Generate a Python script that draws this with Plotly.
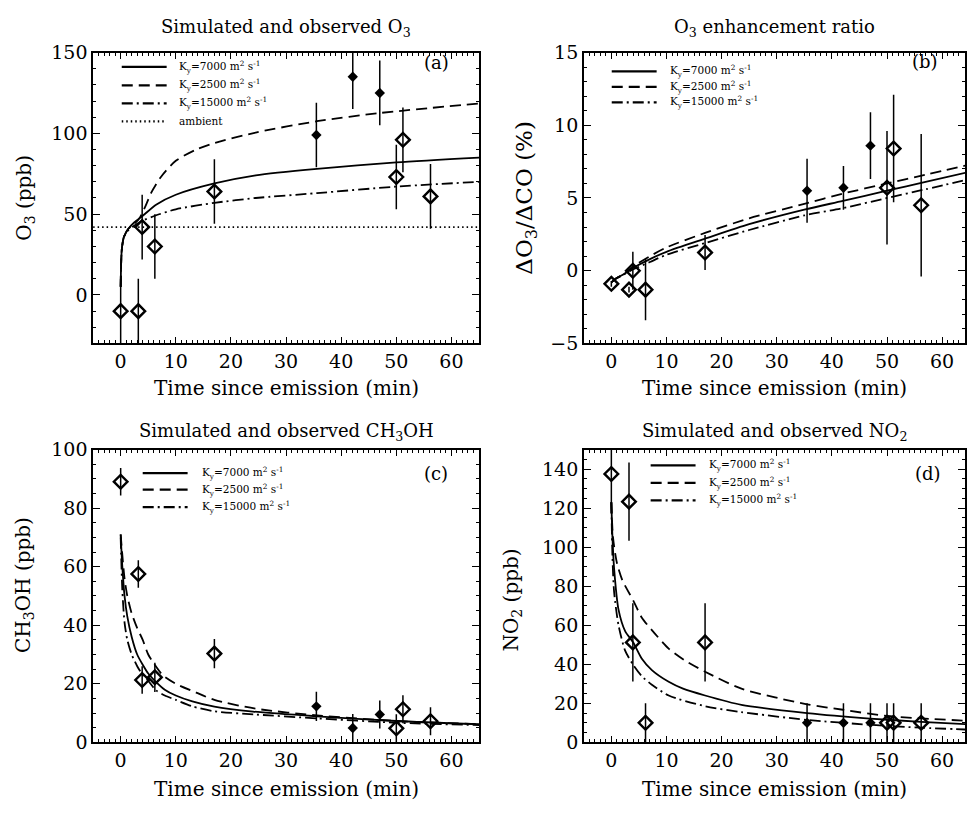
import plotly.graph_objects as go

W, H = 967, 813
FONT = "DejaVu Serif"

# ---------------- data ----------------
t_obs = [0.0, 3.2, 3.9, 6.2, 17.0, 35.5, 42.1, 47.0, 50.0, 51.2, 56.2]
filled = [False, False, False, False, False, True, True, True, False, False, False]

o3_obs = [-10, -10, 42, 30, 64, 99, 135, 125, 73, 96, 61]
o3_err = [20, 20, 20, 20, 20, 20, 20, 20, 20, 20, 20]

ratio_obs = [-0.9, -1.3, 0.0, -1.3, 1.25, 5.5, 5.7, 8.6, 5.7, 8.4, 4.5]
ratio_err = [0.2, 0.2, 1.3, 2.1, 1.2, 2.2, 1.5, 2.3, 3.9, 3.7, 4.9]

ch3oh_obs = [89, 57.5, 21.3, 22.2, 30.3, 12.3, 4.9, 9.5, 4.8, 11.3, 7.2]
ch3oh_err = [4.7, 4.7, 4.7, 5, 5, 5, 4.8, 4.8, 4.8, 4.8, 4.8]

no2_obs = [137.5, 123.3, 51.2, 10, 51.2, 10, 10, 10, 10, 10, 10]
no2_err = [20, 20, 20, 10, 20, 10, 10, 10, 10, 10, 10]

o3_ambient = 42

# simulated curves
o3_k7000_t = [0, 0.2, 0.6, 1.4, 2.5, 4, 6.5, 10, 17, 24.5, 35.6, 50, 65]
o3_k7000 = [5, 28, 36, 41, 45, 49, 56, 62, 69, 74, 78, 82, 85]
o3_k2500_t = [0, 0.2, 0.6, 1.4, 2.5, 3.5, 4.5, 5.5, 7.3, 10, 13.7, 17, 24.5, 35.6, 46.8, 65]
o3_k2500 = [5, 28, 36, 41, 44, 48, 55, 63, 73, 83, 90, 94, 100.5, 107.5, 112.5, 118.5]
o3_k15000_t = [0, 0.2, 0.6, 1.4, 2.5, 4, 6.2, 10, 17, 24.5, 35.6, 49.8, 65]
o3_k15000 = [5, 28, 36, 40, 43, 46, 49, 53, 57, 60, 63, 67, 70]

ratio_k7000_t = [0, 1, 2, 4, 7, 10, 17, 25, 35, 42, 50, 57, 65]
ratio_k7000 = [-0.8, -0.5, -0.3, 0.2, 0.8, 1.3, 2.2, 3.2, 4.2, 4.8, 5.5, 6.1, 6.8]
ratio_k2500_t = [0, 1, 2, 4, 7, 10, 17, 25, 35, 42, 50, 57, 65]
ratio_k2500 = [-0.8, -0.5, -0.3, 0.3, 1.0, 1.6, 2.6, 3.6, 4.6, 5.3, 6.0, 6.6, 7.3]
ratio_k15000_t = [0, 1, 2, 4, 7, 10, 17, 25, 35, 42, 50, 57, 65]
ratio_k15000 = [-0.8, -0.5, -0.3, 0.1, 0.6, 1.1, 1.9, 2.8, 3.8, 4.3, 5.0, 5.6, 6.3]

ch3oh_k7000_t = [0, 0.3, 0.7, 1.2, 2, 3, 4, 5, 6.2, 8, 10, 13, 17, 24, 35.6, 50, 65]
ch3oh_k7000 = [71, 60, 50, 43, 36, 30, 26.5, 23.5, 21, 18, 16, 14, 12.2, 10.5, 8.9, 7.3, 6.2]
ch3oh_k2500_t = [0, 0.3, 0.7, 1.2, 2, 3, 4, 5, 6, 7.7, 10, 13.7, 17, 24.5, 35.6, 50, 65]
ch3oh_k2500 = [71, 64, 56, 50, 44, 39, 35, 30, 27, 22.8, 20, 17, 14.5, 11.5, 9.2, 7.3, 6.2]
ch3oh_k15000_t = [0, 0.3, 0.7, 1.2, 2, 3, 4, 5, 6.4, 8, 10, 13, 17, 24.5, 35.6, 50, 65]
ch3oh_k15000 = [70, 52, 41, 35, 30, 26, 23, 21, 17.8, 16, 14.5, 12.3, 10.6, 9.5, 8.2, 6.7, 5.9]

no2_k7000_t = [0, 0.2, 0.5, 1.3, 2.5, 4, 5.5, 7.35, 10.4, 13, 17, 23.6, 35.5, 46.9, 56.2, 65]
no2_k7000 = [123, 105, 89, 68, 57, 51, 43, 37, 31, 27.5, 24, 19.2, 15, 12.2, 10.5, 9.2]
no2_k2500_t = [0, 0.3, 1, 2, 4, 5.5, 7.35, 10.4, 13.3, 17, 23.6, 35.5, 42, 50, 65]
no2_k2500 = [123, 105, 92, 83, 72.5, 64, 57.5, 48, 42, 36.2, 27.5, 19.5, 16.7, 13.5, 11]
no2_k15000_t = [0, 0.2, 0.5, 1.3, 2.5, 4, 5.5, 7.35, 10.4, 17, 23.6, 35.5, 46.9, 56.2, 65]
no2_k15000 = [123, 95, 77, 60, 47, 39.5, 34, 29.5, 24, 18.5, 15.5, 11.5, 9, 7.5, 6.5]

legend_labels = ["K<sub>y</sub>=7000 m<sup>2</sup> s<sup>-1</sup>",
                 "K<sub>y</sub>=2500 m<sup>2</sup> s<sup>-1</sup>",
                 "K<sub>y</sub>=15000 m<sup>2</sup> s<sup>-1</sup>"]

# ---------------- layout helpers ----------------
def px2x(px):
    return px / W

def py2y(py):
    return 1 - py / H

DASHES = {"solid": "solid", "dash": "11px,6px", "dashdot": "11px,4px,2px,4px", "dot": "1.5px,3px"}
LW = 1.8

fig = go.Figure()

panels = {
    "a": dict(xa="x", ya="y", xdom=(93.3, 480), ydom=(42.7, 341.7), yr=[-30, 150], ydt=50, ymin=10),
    "b": dict(xa="x2", ya="y2", xdom=(585, 967), ydom=(42.7, 341.7), yr=[-5, 15], ydt=5, ymin=1),
    "c": dict(xa="x3", ya="y3", xdom=(93.3, 480), ydom=(450.7, 751.7), yr=[0, 100], ydt=20, ymin=5),
    "d": dict(xa="x4", ya="y4", xdom=(585, 967), ydom=(450.7, 751.7), yr=[0, 150], ydt=20, ymin=5),
}

def add_obs(p, y, err):
    info = panels[p]
    for is_f in (False, True):
        xs = [t for t, f in zip(t_obs, filled) if f == is_f]
        ys = [v for v, f in zip(y, filled) if f == is_f]
        es = [e for e, f in zip(err, filled) if f == is_f]
        fig.add_trace(go.Scatter(
            x=xs, y=ys, mode="markers", xaxis=info["xa"], yaxis=info["ya"],
            showlegend=False, cliponaxis=True,
            error_y=dict(type="data", array=es, visible=True, color="black", thickness=1.5, width=0),
            marker=dict(symbol="diamond" if is_f else "diamond-open",
                        size=8 if is_f else 10.5, color="black",
                        line=dict(color="black", width=0 if is_f else 2.4)),
        ))

def add_curve(p, x, y, dash):
    info = panels[p]
    fig.add_trace(go.Scatter(x=x, y=y, mode="lines", xaxis=info["xa"], yaxis=info["ya"],
                             showlegend=False,
                             line=dict(color="black", width=LW, dash=DASHES[dash],
                                       shape="spline", smoothing=0.7)))

# curves
add_curve("a", o3_k7000_t, o3_k7000, "solid")
add_curve("a", o3_k2500_t, o3_k2500, "dash")
add_curve("a", o3_k15000_t, o3_k15000, "dashdot")
add_curve("a", [-5, 65], [o3_ambient, o3_ambient], "dot")
add_curve("b", ratio_k7000_t, ratio_k7000, "solid")
add_curve("b", ratio_k2500_t, ratio_k2500, "dash")
add_curve("b", ratio_k15000_t, ratio_k15000, "dashdot")
add_curve("c", ch3oh_k7000_t, ch3oh_k7000, "solid")
add_curve("c", ch3oh_k2500_t, ch3oh_k2500, "dash")
add_curve("c", ch3oh_k15000_t, ch3oh_k15000, "dashdot")
add_curve("d", no2_k7000_t, no2_k7000, "solid")
add_curve("d", no2_k2500_t, no2_k2500, "dash")
add_curve("d", no2_k15000_t, no2_k15000, "dashdot")

add_obs("a", o3_obs, o3_err)
add_obs("b", ratio_obs, ratio_err)
add_obs("c", ch3oh_obs, ch3oh_err)
add_obs("d", no2_obs, no2_err)

TICKFONT = dict(family=FONT, size=19, color="black")
axis_common = dict(showgrid=False, zeroline=False, showline=True, linecolor="black", linewidth=1.5,
                   mirror="ticks", ticks="inside", ticklen=7, tickwidth=1.2, tickcolor="black",
                   tickfont=TICKFONT)

layout = dict(width=W, height=H, margin=dict(l=0, r=0, t=0, b=0),
              paper_bgcolor="white", plot_bgcolor="white", showlegend=False,
              font=dict(family=FONT, color="black"))

for key, info in panels.items():
    xs = info["xa"].replace("x", "xaxis")
    ys = info["ya"].replace("y", "yaxis")
    x0, x1 = info["xdom"]
    y0, y1 = info["ydom"]
    xr = [-5, 65] if x1 < 900 else [-5, -5 + (x1 - x0) / ((480 - 93.3) / 70)]
    layout[xs] = dict(axis_common, domain=[px2x(x0), px2x(x1)], range=xr, anchor=info["ya"],
                      tick0=0, dtick=10,
                      minor=dict(dtick=1, tick0=0, ticks="inside", ticklen=3.5, tickcolor="black", tickwidth=1))
    layout[ys] = dict(axis_common, domain=[py2y(y1), py2y(y0)], range=info["yr"], anchor=info["xa"],
                      tick0=0, dtick=info["ydt"],
                      minor=dict(dtick=info["ymin"], tick0=0, ticks="inside", ticklen=3.5, tickcolor="black", tickwidth=1))

fig.update_layout(**layout)

annotations = []
shapes = []

def text(px, py, s, size, xanchor="center", yanchor="middle", angle=0):
    annotations.append(dict(x=px2x(px), y=py2y(py), xref="paper", yref="paper", text=s, showarrow=False,
                            xanchor=xanchor, yanchor=yanchor, textangle=angle,
                            font=dict(family=FONT, size=size, color="black")))

# titles
text(286.7, 17, "Simulated and observed O<sub>3</sub>", 18)
text(776, 17, "O<sub>3</sub> enhancement ratio", 18)
text(286.7, 433, "Simulated and observed CH<sub>3</sub>OH", 18)
text(776, 433, "Simulated and observed NO<sub>2</sub>", 18)
# x titles
for cx in (286.7, 776):
    text(cx, 387, "Time since emission (min)", 20)
    text(cx, 800, "Time since emission (min)", 20)
# y titles
text(25, 192, "O<sub>3</sub> (ppb)", 20, angle=-90)
text(527, 192, "ΔO<sub>3</sub>/ΔCO (%)", 23, angle=-90)
text(24, 590, "CH<sub>3</sub>OH (ppb)", 20, angle=-90)
text(513, 605, "NO<sub>2</sub> (ppb)", 20, angle=-90)
# panel letters
text(437, 53, "(a)", 18)
text(927, 52, "(b)", 18)
text(437, 475, "(c)", 18)
text(930, 475, "(d)", 18)

# legends
def legend(x_line, x_text, rows, labels, dashes):
    for py, lab, d in zip(rows, labels, dashes):
        shapes.append(dict(type="line", xref="paper", yref="paper",
                           x0=px2x(x_line), x1=px2x(x_line + 45), y0=py2y(py), y1=py2y(py),
                           line=dict(color="black", width=2.2, dash=DASHES[d])))
        text(x_text, py, lab, 10.5, xanchor="left")

legend(122, 177, [57.5, 76.5, 95, 113.5], legend_labels + ["ambient"], ["solid", "dash", "dashdot", "dot"])
legend(613, 669, [62, 78, 94], legend_labels, ["solid", "dash", "dashdot"])
legend(143, 200, [475, 492, 510], legend_labels, ["solid", "dash", "dashdot"])
legend(652, 708, [467, 485, 503], legend_labels, ["solid", "dash", "dashdot"])

fig.update_layout(annotations=annotations, shapes=shapes)
fig.write_html("out.html")
